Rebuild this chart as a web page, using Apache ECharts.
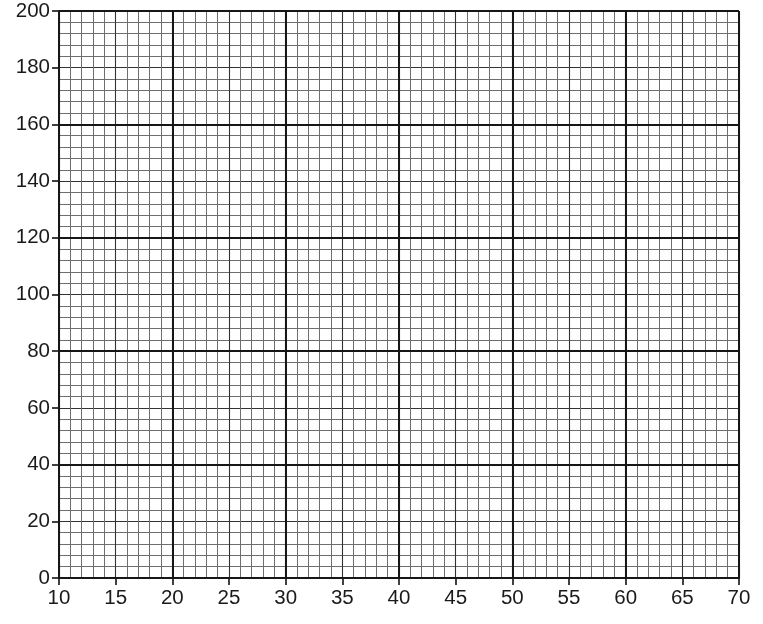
<!DOCTYPE html>
<html>
<head>
<meta charset="utf-8">
<script src="https://cdn.jsdelivr.net/npm/echarts@6/dist/echarts.min.js"></script>
<style>
html,body{margin:0;padding:0;background:#fff;}
#c{width:763px;height:624px;}
</style>
</head>
<body>
<div id="c"></div>
<script>
// Axis ranges and tick steps
var xRange = [10, 70];
var xLabelStep = 5;
var xMajorStep = 10;
var xMinorPerLabel = 5;
var yRange = [0, 200];
var yLabelStep = 20;
var yMajorStep = 40;
var yMinorPerLabel = 5;
var seriesData = [];

var chart = echarts.init(document.getElementById('c'), null, {renderer: 'canvas'});
var labelFont = {color: '#1a1a1a', fontSize: 20.5, fontFamily: 'Liberation Sans, Arial, sans-serif'};

chart.setOption({
  animation: false,
  backgroundColor: '#fff',
  grid: {left: 59, right: 24, top: 11, bottom: 46, containLabel: false},
  xAxis: [
    {
      type: 'value', min: xRange[0], max: xRange[1], interval: xLabelStep,
      axisLine: {show: true, onZero: false, lineStyle: {color: '#111', width: 1.6}},
      axisTick: {show: true, length: 7, lineStyle: {color: '#111', width: 1.6}},
      axisLabel: Object.assign({margin: 10, showMinLabel: true, showMaxLabel: true}, labelFont),
      splitLine: {show: true, lineStyle: {color: '#333', width: 1.1}},
      minorTick: {show: false, splitNumber: xMinorPerLabel},
      minorSplitLine: {show: true, lineStyle: {color: '#6e6e6e', width: 1}},
      z: 1
    },
    {
      type: 'value', min: xRange[0], max: xRange[1], interval: xMajorStep,
      axisLine: {show: false}, axisTick: {show: false}, axisLabel: {show: false},
      splitLine: {show: true, lineStyle: {color: '#161616', width: 2}},
      z: 2
    }
  ],
  yAxis: [
    {
      type: 'value', min: yRange[0], max: yRange[1], interval: yLabelStep,
      axisLine: {show: true, onZero: false, lineStyle: {color: '#111', width: 1.6}},
      axisTick: {show: true, length: 7, lineStyle: {color: '#111', width: 1.6}},
      axisLabel: Object.assign({margin: 9, showMinLabel: true, showMaxLabel: true}, labelFont),
      splitLine: {show: true, lineStyle: {color: '#333', width: 1.1}},
      minorTick: {show: false, splitNumber: yMinorPerLabel},
      minorSplitLine: {show: true, lineStyle: {color: '#6e6e6e', width: 1}},
      z: 1
    },
    {
      type: 'value', min: yRange[0], max: yRange[1], interval: yMajorStep,
      axisLine: {show: false}, axisTick: {show: false}, axisLabel: {show: false},
      splitLine: {show: true, lineStyle: {color: '#161616', width: 2}},
      z: 2
    }
  ],
  series: [
    {type: 'scatter', xAxisIndex: 0, yAxisIndex: 0, data: seriesData}
  ]
});
</script>
</body>
</html>
